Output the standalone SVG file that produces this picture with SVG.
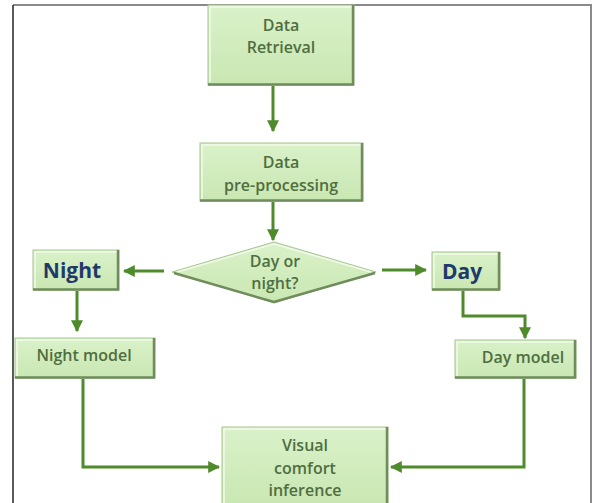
<svg xmlns="http://www.w3.org/2000/svg" width="593" height="503" viewBox="0 0 593 503">
  <defs>
    <linearGradient id="boxFill" x1="0" y1="0" x2="0" y2="1">
      <stop offset="0" stop-color="#daf1c9"/>
      <stop offset="1" stop-color="#c9e7b2"/>
    </linearGradient>
    <marker id="arrowHead" viewBox="0 0 10 10" refX="9" refY="5" markerWidth="4" markerHeight="4" orient="auto" markerUnits="strokeWidth">
      <path d="M0,0 L10,5 L0,10 Z" fill="#4f8a2b"/>
    </marker>
  </defs>
  <style>
    .box { fill: url(#boxFill); stroke: #a7c690; stroke-width: 1; }
    .shade { fill: none; stroke: #6f8c5c; stroke-width: 2.5; }
    .hilite { fill: none; stroke: #f1faea; stroke-width: 1.5; }
    .label { font-family: "Open Sans", "Noto Sans", sans-serif; font-size: 16px; font-weight: 600; fill: #4f6e40; text-anchor: middle; }
    .big { font-family: "Open Sans", "Noto Sans", sans-serif; font-size: 21px; font-weight: bold; fill: #1f3a6a; text-anchor: middle; }
    .flow { fill: none; stroke: #4f8a2b; stroke-width: 3; marker-end: url(#arrowHead); }
    .frameDark { stroke: #222222; stroke-width: 1.5; }
    .frameLight { stroke: #8a8a8a; stroke-width: 2; }
  </style>

  <rect width="593" height="503" fill="#ffffff"/>

  <!-- page frame -->
  <g id="frame">
    <line class="frameLight" x1="13" y1="5" x2="592" y2="5"/>
    <line class="frameLight" x1="591" y1="5" x2="591" y2="503"/>
    <line class="frameDark" x1="13" y1="5" x2="13" y2="503"/>
  </g>

  <!-- connectors -->
  <g id="connectors">
    <path class="flow" d="M273,86 V131"/>
    <path class="flow" d="M273,202 V240"/>
    <path class="flow" d="M164,271 H124"/>
    <path class="flow" d="M382,270 H426"/>
    <path class="flow" d="M77,291 V331"/>
    <path class="flow" d="M463,291 V316 H525 V338"/>
    <path class="flow" d="M83,379 V467 H219"/>
    <path class="flow" d="M524,379 V467 H391"/>
  </g>

  <g id="data-retrieval">
    <rect class="box" x="208" y="5" width="146" height="80"/>
    <polyline class="hilite" points="210,82 210,7 352,7"/>
    <polyline class="shade" points="208,84.5 353,84.5 353,5"/>
    <text class="label" x="281" y="31">Data</text>
    <text class="label" x="281" y="53">Retrieval</text>
  </g>

  <g id="data-preprocessing">
    <rect class="box" x="200" y="143" width="163" height="58"/>
    <polyline class="hilite" points="202,199 202,145 361,145"/>
    <polyline class="shade" points="200,200.5 362,200.5 362,143"/>
    <text class="label" x="281" y="168">Data</text>
    <text class="label" x="281" y="191">pre-processing</text>
  </g>

  <g id="day-or-night">
    <polygon class="box" points="274,242 376,272 274,303 172,272"/>
    <polyline class="hilite" points="177,272 274,244 371,272"/>
    <polyline class="shade" points="174,273 274,302 375,273"/>
    <text class="label" x="275" y="267">Day or</text>
    <text class="label" x="275" y="289">night?</text>
  </g>

  <g id="night">
    <rect class="box" x="33" y="250" width="86" height="40"/>
    <polyline class="hilite" points="35,288 35,252 117,252"/>
    <polyline class="shade" points="33,289.5 118,289.5 118,250"/>
    <text class="big" x="72" y="278">Night</text>
  </g>

  <g id="day">
    <rect class="box" x="432" y="252" width="68" height="38"/>
    <polyline class="hilite" points="434,288 434,254 498,254"/>
    <polyline class="shade" points="432,289.5 499,289.5 499,252"/>
    <text class="big" x="462" y="279">Day</text>
  </g>

  <g id="night-model">
    <rect class="box" x="15" y="338" width="140" height="40"/>
    <polyline class="hilite" points="17,376 17,340 153,340"/>
    <polyline class="shade" points="15,377.5 154,377.5 154,338"/>
    <text class="label" x="84" y="361">Night model</text>
  </g>

  <g id="day-model">
    <rect class="box" x="455" y="340" width="121" height="38"/>
    <polyline class="hilite" points="457,376 457,342 574,342"/>
    <polyline class="shade" points="455,377.5 575,377.5 575,340"/>
    <text class="label" x="523" y="363">Day model</text>
  </g>

  <g id="visual-comfort-inference">
    <rect class="box" x="222" y="427" width="166" height="80"/>
    <polyline class="hilite" points="224,505 224,429 386,429"/>
    <polyline class="shade" points="387,427 387,505"/>
    <text class="label" x="305" y="451">Visual</text>
    <text class="label" x="305" y="474">comfort</text>
    <text class="label" x="305" y="496">inference</text>
  </g>
</svg>
